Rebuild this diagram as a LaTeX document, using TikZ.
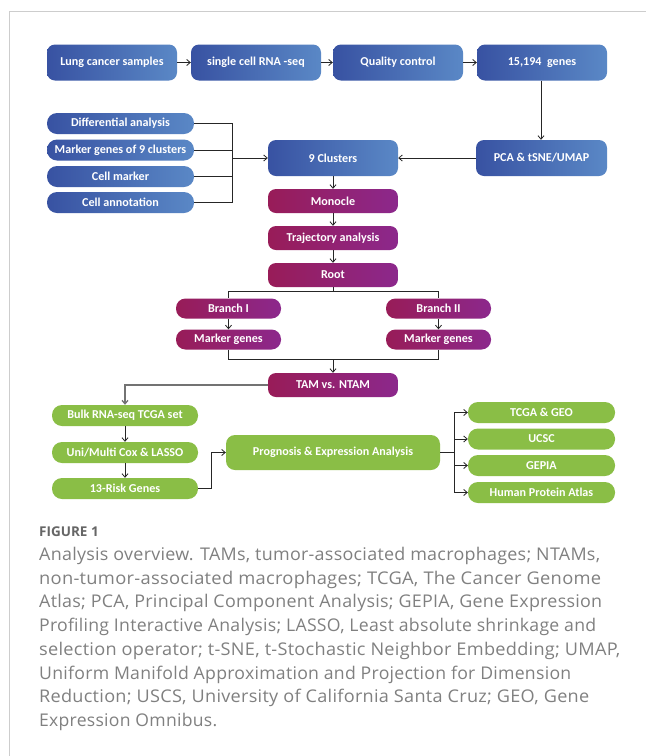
\documentclass[tikz,border=0pt]{standalone}
\usepackage{fontspec}
\setmainfont{Carlito}
\newfontfamily\capfont[LetterSpace=1.5]{Open Sans}
\newfontfamily\figfont{Open Sans}
\usetikzlibrary{arrows.meta}
\definecolor{bL}{RGB}{56,82,162}
\definecolor{bR}{RGB}{90,136,198}
\definecolor{pL}{RGB}{152,28,88}
\definecolor{pR}{RGB}{140,40,140}
\definecolor{gF}{RGB}{138,190,70}
\definecolor{capgray}{RGB}{128,128,128}
\definecolor{framegray}{RGB}{205,205,205}
\newcommand{\capfit}[2]{\resizebox{#1pt}{\height}{#2}}
\tikzset{
  base/.style={text=white, font=\fontsize{12.1}{14}\selectfont\bfseries, inner sep=0pt, draw=none},
  bluebig/.style={base, left color=bL, right color=bR, rounded corners=8pt, minimum width=130pt, minimum height=36pt},
  bluepill/.style={base, left color=bL, right color=bR, rounded corners=10pt, minimum width=147pt, minimum height=21pt},
  purp/.style={base, left color=pL, right color=pR, rounded corners=8pt, minimum width=130pt, minimum height=24pt},
  purppill/.style={base, left color=pL, right color=pR, rounded corners=9.5pt, minimum width=105pt, minimum height=20pt},
  greenpill/.style={base, fill=gF, rounded corners=10pt, minimum height=21pt},
  greenbig/.style={base, fill=gF, rounded corners=9pt, minimum width=214pt, minimum height=35pt},
  conn/.style={line width=0.8pt, black!85},
  arr/.style={conn, -{Straight Barb[length=3.5pt,width=6pt]}},
  grayarr/.style={line width=1.3pt, black!55, -{Straight Barb[length=3.5pt,width=6pt]}},
  capline/.style={anchor=west, inner sep=0pt, text=capgray, font=\capfont\fontsize{17.5}{20}\selectfont}
}
\begin{document}
\begin{tikzpicture}[x=1pt,y=-1pt]
\useasboundingbox (0,0) rectangle (646,756);
\fill[white] (0,0) rectangle (646,756);
\draw[framegray, line width=1pt] (646,11.5) -- (9,11.5) -- (9,756);

% top row
\node[bluebig] (lung) at (112,62.5) {Lung cancer samples};
\node[bluebig] (sc) at (256,62.5) {single cell RNA -seq};
\node[bluebig] (qc) at (398,62.5) {Quality control};
\node[bluebig] (genes) at (542,62.5) {15,194\ \ genes};

\node[bluebig, minimum width=131pt] (pca) at (541.5,158) {PCA \& tSNE/UMAP};
\node[bluebig] (clus) at (333,158) {9 Clusters};

\node[bluepill] (diff) at (120.5,123.5) {Differential analysis};
\node[bluepill] (mk9) at (120.5,150) {Marker genes of 9 clusters};
\node[bluepill] (cellm) at (120.5,176.5) {Cell marker};
\node[bluepill] (cella) at (120.5,202.5) {Cell annotation};
\coordinate (brk) at (232,158);

\node[purp] (mono) at (333,201) {Monocle};
\node[purp] (traj) at (333,238) {Trajectory analysis};
\node[purp] (root) at (333,275) {Root};
\coordinate (rsplit) at (333,291);

\node[purppill] (br1) at (228.5,308.5) {Branch I};
\node[purppill] (mg1) at (228.5,339.5) {Marker genes};
\node[purppill] (br2) at (438.5,308.5) {Branch II};
\node[purppill] (mg2) at (438.5,339.5) {Marker genes};
\coordinate (mjoin) at (333,359);

\node[purp] (tam) at (333,385) {TAM vs. NTAM};

\node[greenpill, minimum width=146pt] (bulk) at (125,415.5) {Bulk RNA-seq TCGA set};
\node[greenpill, minimum width=146pt] (uni) at (125,452.5) {Uni/Multi Cox \& LASSO};
\node[greenpill, minimum width=146pt] (risk) at (125,488.5) {13-Risk Genes};
\node[greenbig] (prog) at (333,452.5) {Prognosis \& Expression Analysis};
\coordinate (rj) at (211,488.5);
\coordinate (pj) at (454,452.5);

\node[greenpill, minimum width=147pt] (tcga) at (541.5,412.5) {TCGA \& GEO};
\node[greenpill, minimum width=147pt] (ucsc) at (541.5,439) {UCSC};
\node[greenpill, minimum width=147pt] (gepia) at (541.5,465.5) {GEPIA};
\node[greenpill, minimum width=147pt] (hpa) at (541.5,492.5) {Human Protein Atlas};

% connectors
\draw[arr] (lung) -- (sc);
\draw[arr] (sc) -- (qc);
\draw[arr] (qc) -- (genes);
\draw[arr] (genes.south -| 541,0) -- (pca.north -| 541,0);
\draw[arr] (pca) -- (clus);
\draw[conn] (diff.east) -| (brk);
\draw[conn] (cella.east) -| (brk);
\draw[conn] (mk9.east) -- (mk9.east -| brk);
\draw[conn] (cellm.east) -- (cellm.east -| brk);
\draw[arr] (brk) -- (clus.west);
\draw[arr] (clus) -- (mono);
\draw[arr] (mono) -- (traj);
\draw[arr] (traj) -- (root);
\draw[conn] (root.south) -- (rsplit);
\draw[conn] (rsplit) -| (br1.north);
\draw[conn] (rsplit) -| (br2.north);
\draw[arr] (br1) -- (mg1);
\draw[arr] (br2) -- (mg2);
\draw[conn] (mg1.south) |- (mjoin);
\draw[conn] (mg2.south) |- (mjoin);
\draw[arr] (mjoin) -- (tam.north);
\draw[grayarr] (tam.west) -| (bulk.north);
\draw[arr] (bulk) -- (uni);
\draw[arr] (uni) -- (risk);
\draw[conn] (risk.east) -- (rj);
\draw[arr] (rj) |- (prog.west);
\draw[conn] (prog.east) -- (pj);
\draw[arr] (pj) |- (tcga.west);
\draw[arr] (pj) |- (ucsc.west);
\draw[arr] (pj) |- (gepia.west);
\draw[arr] (pj) |- (hpa.west);

% caption
\node[anchor=west, inner sep=0pt, text=black!60, font=\figfont\fontsize{13.5}{16}\selectfont\bfseries] (fig) at (39,531.5) {FIGURE 1};
\node[capline] (c1) at (39,556) {\capfit{561}{Analysis overview. TAMs, tumor-associated macrophages; NTAMs,}};
\node[capline] (c2) at (39,579.7) {\capfit{562}{non-tumor-associated macrophages; TCGA, The Cancer Genome}};
\node[capline] (c3) at (39,603.4) {\capfit{563}{Atlas; PCA, Principal Component Analysis; GEPIA, Gene Expression}};
\node[capline] (c4) at (39,627.1) {\capfit{557}{Profiling Interactive Analysis; LASSO, Least absolute shrinkage and}};
\node[capline] (c5) at (39,650.8) {\capfit{581}{selection operator; t-SNE, t-Stochastic Neighbor Embedding; UMAP,}};
\node[capline] (c6) at (39,674.5) {\capfit{532}{Uniform Manifold Approximation and Projection for Dimension}};
\node[capline] (c7) at (39,698.2) {\capfit{550}{Reduction; USCS, University of California Santa Cruz; GEO, Gene}};
\node[capline] (c8) at (39,721.9) {\capfit{178}{Expression Omnibus.}};
\end{tikzpicture}
\end{document}
